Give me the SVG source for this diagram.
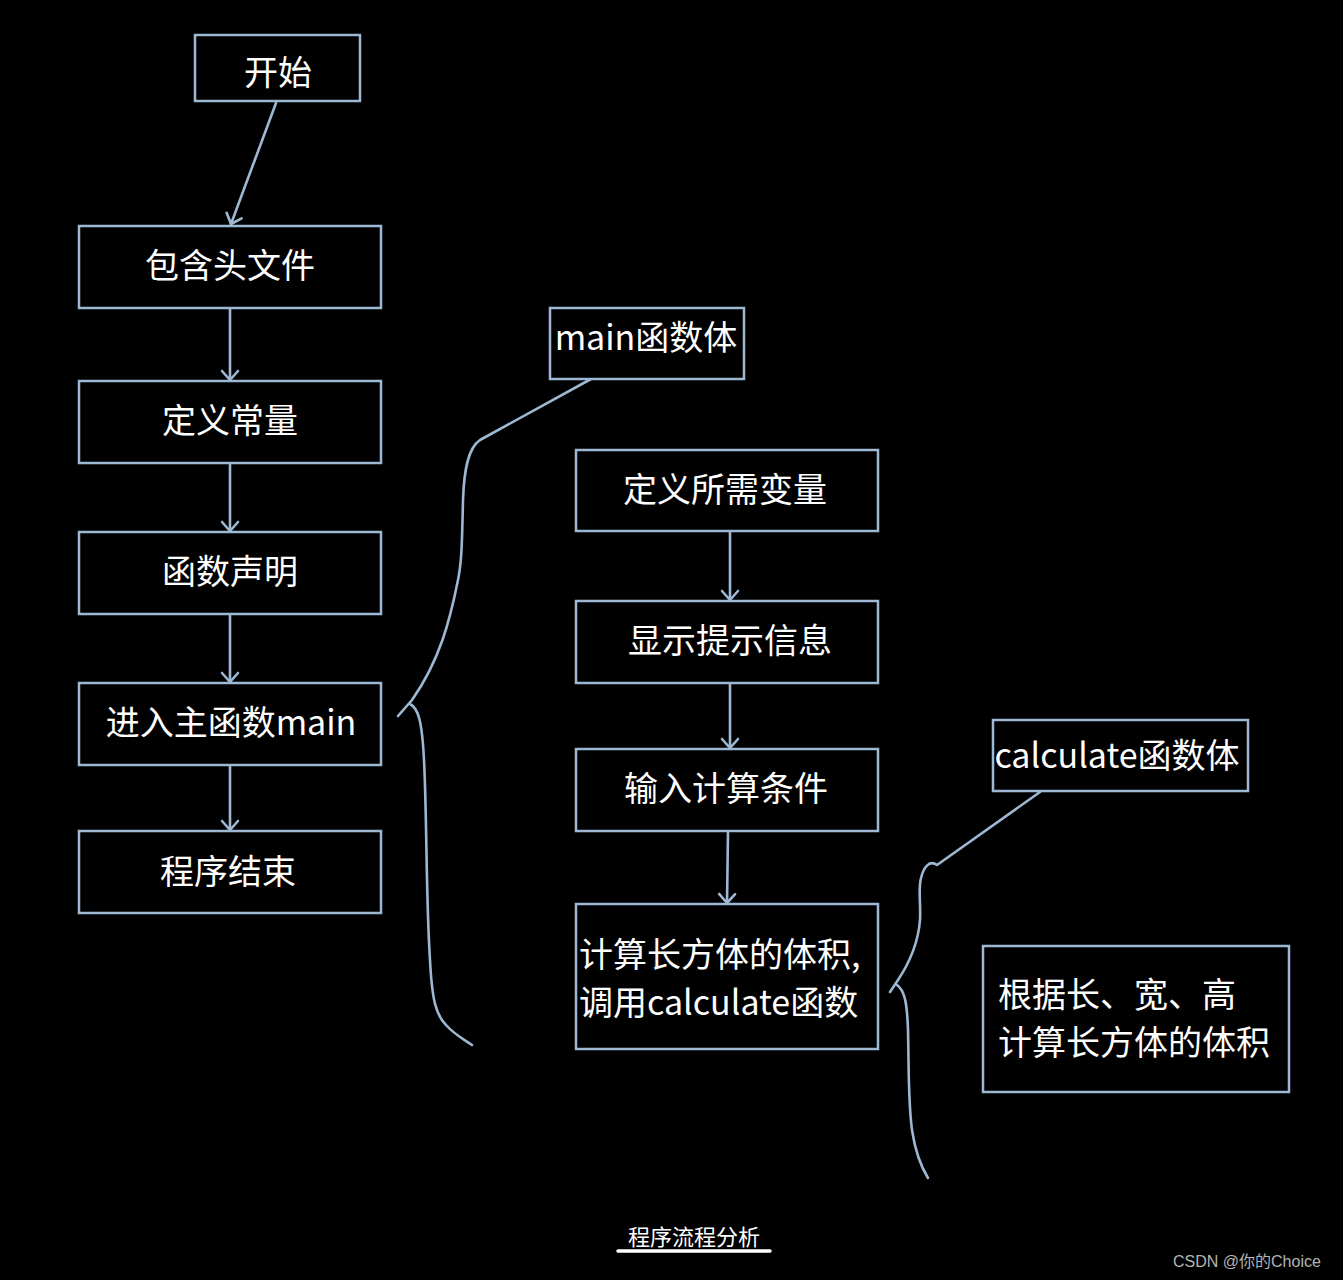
<svg xmlns="http://www.w3.org/2000/svg" width="1343" height="1280" viewBox="0 0 1343 1280">
<defs>
<style>
.box{fill:#000;stroke:#9db8d2;stroke-width:2.5}
.t{fill:#fff;font-family:"Noto Sans CJK SC","Noto Sans",sans-serif;font-size:34px}
.c{text-anchor:middle}
.ln{fill:none;stroke:#9db8d2;stroke-width:2.6;stroke-linecap:round;stroke-linejoin:round}
</style>
<marker id="ah" viewBox="0 0 20 20" refX="18" refY="10" markerWidth="20" markerHeight="20" markerUnits="userSpaceOnUse" orient="auto">
<path d="M9 2 L18 10 L9 18" fill="none" stroke="#9db8d2" stroke-width="2.6" stroke-linecap="round" stroke-linejoin="round"/>
</marker>
</defs>
<rect width="1343" height="1280" fill="#000"/>
<g id="connectors">
<path class="ln" d="M276 103 L231 224" marker-end="url(#ah)"/>
<path class="ln" d="M230 309 L230 380" marker-end="url(#ah)"/>
<path class="ln" d="M230 464 L230 531" marker-end="url(#ah)"/>
<path class="ln" d="M230 615 L230 682" marker-end="url(#ah)"/>
<path class="ln" d="M230 766 L230 830" marker-end="url(#ah)"/>
<path class="ln" d="M730 532 L730 600" marker-end="url(#ah)"/>
<path class="ln" d="M730 684 L730 748" marker-end="url(#ah)"/>
<path class="ln" d="M728 832 L727 903" marker-end="url(#ah)"/>
<path class="ln" d="M591 379 L480 440 C468 448 464 470 463 500 C462 540 462 560 458 580 C450 620 440 660 412 700 L398 716"/>
<path class="ln" d="M410 704 C418 708 422 720 424 760 C427 820 426 900 430 960 C432 1000 436 1015 446 1025 C455 1035 462 1038 472 1045"/>
<path class="ln" d="M1040 792 L937 865 C930 860 924 866 921 878 C918 890 921 905 920 920 C918 945 908 965 898 980 L890 992"/>
<path class="ln" d="M897 985 C904 990 907 1000 908 1030 C909 1070 908 1100 912 1130 C915 1150 920 1165 928 1178"/>
</g>
<g id="n_start"><rect class="box" x="195" y="35" width="165" height="66"/><text class="t c" x="278" y="85">开始</text></g>
<g id="n_include"><rect class="box" x="79" y="226" width="302" height="82"/><text class="t c" x="230" y="278">包含头文件</text></g>
<g id="n_const"><rect class="box" x="79" y="381" width="302" height="82"/><text class="t c" x="230" y="433">定义常量</text></g>
<g id="n_decl"><rect class="box" x="79" y="532" width="302" height="82"/><text class="t c" x="230" y="584">函数声明</text></g>
<g id="n_main"><rect class="box" x="79" y="683" width="302" height="82"/><text class="t c" x="231" y="735">进入主函数main</text></g>
<g id="n_end"><rect class="box" x="79" y="831" width="302" height="82"/><text class="t c" x="228" y="884">程序结束</text></g>
<g id="n_mainbody"><rect class="box" x="550" y="308" width="194" height="71"/><text class="t c" x="646" y="350">main函数体</text></g>
<g id="n_vars"><rect class="box" x="576" y="450" width="302" height="81"/><text class="t c" x="725" y="502">定义所需变量</text></g>
<g id="n_show"><rect class="box" x="576" y="601" width="302" height="82"/><text class="t c" x="730" y="653">显示提示信息</text></g>
<g id="n_input"><rect class="box" x="576" y="749" width="302" height="82"/><text class="t c" x="726" y="801">输入计算条件</text></g>
<g id="n_calc"><rect class="box" x="576" y="904" width="302" height="145"/><text class="t" x="579" y="967">计算长方体的体积,</text><text class="t" x="579" y="1015">调用calculate函数</text></g>
<g id="n_calcbody"><rect class="box" x="993" y="720" width="255" height="71"/><text class="t c" x="1117" y="768">calculate函数体</text></g>
<g id="n_volume"><rect class="box" x="983" y="946" width="306" height="146"/><text class="t" x="998" y="1007">根据长、宽、高</text><text class="t" x="998" y="1055">计算长方体的体积</text></g>
<g id="caption"><text x="694" y="1245" fill="#fff" font-family="Noto Sans CJK SC,sans-serif" font-size="22" text-anchor="middle">程序流程分析</text><line x1="618" y1="1251" x2="770" y2="1251" stroke="#fff" stroke-width="3.5" stroke-linecap="round"/></g>
<text x="1173" y="1267" fill="#b4b4b4" font-family="Liberation Sans,Noto Sans CJK SC,sans-serif" font-size="16">CSDN @你的Choice</text>
</svg>
